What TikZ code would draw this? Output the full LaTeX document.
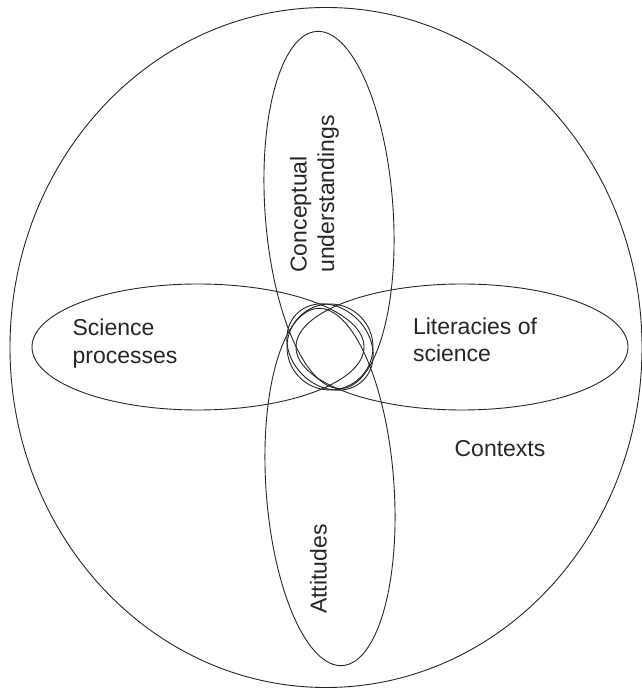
\documentclass[tikz,border=0pt]{standalone}
\usepackage{fontspec}
\setmainfont{Liberation Sans}
\usetikzlibrary{shapes,arrows}
\usetikzlibrary{calc,positioning}

\begin{document}
\begin{tikzpicture}[x=1pt,y=1pt]
    \tikzstyle{ring} = [draw=black!85, line width=0.9pt, ellipse, inner sep=0pt, outer sep=0pt]
    \tikzstyle{areatext} = [font=\fontsize{23}{27.5}\selectfont, text=black!85, inner sep=0pt, align=left]

    \def\petalMinor{128pt}
    \def\petalMajor{358pt}
    \def\armMinor{126pt}
    \def\armMajor{332pt}

    \useasboundingbox (0,0) rectangle (641,688);

    % outer context
    \node[ring] (Ctx) [minimum width=632pt, minimum height=680pt] at (326,340.5) {};

    % the four petals
    \node[ring] (CU) [minimum width=\petalMinor, minimum height=\petalMajor, rotate=4] at (329,478) {};
    \node[ring] (At) [minimum width=\petalMinor, minimum height=\petalMajor, rotate=4] at (330,201) {};
    \node[ring] (SP) [minimum width=\armMajor, minimum height=\armMinor] at (198,341) {};
    \node[ring] (LS) [minimum width=\armMajor, minimum height=\armMinor] at (462,341) {};

    % centre
    \node[ring] (core) [circle, minimum size=86pt] at (330,341) {};
    \node[ring] (coreB) [minimum width=94pt, minimum height=78pt, rotate=-45] at (330,341) {};

    \node[areatext] (CUt) [rotate=90] at (314.5,494) {Conceptual\\understandings};
    \node[areatext] (SPt) at (125,344.5) {Science\\processes};
    \node[areatext] (LSt) at (475,348) {Literacies of\\science};
    \node[areatext] (Att) [rotate=90] at (318.5,119) {Attitudes};
    \node[areatext] (Ctxt) at (500,239) {Contexts};
\end{tikzpicture}
\end{document}
